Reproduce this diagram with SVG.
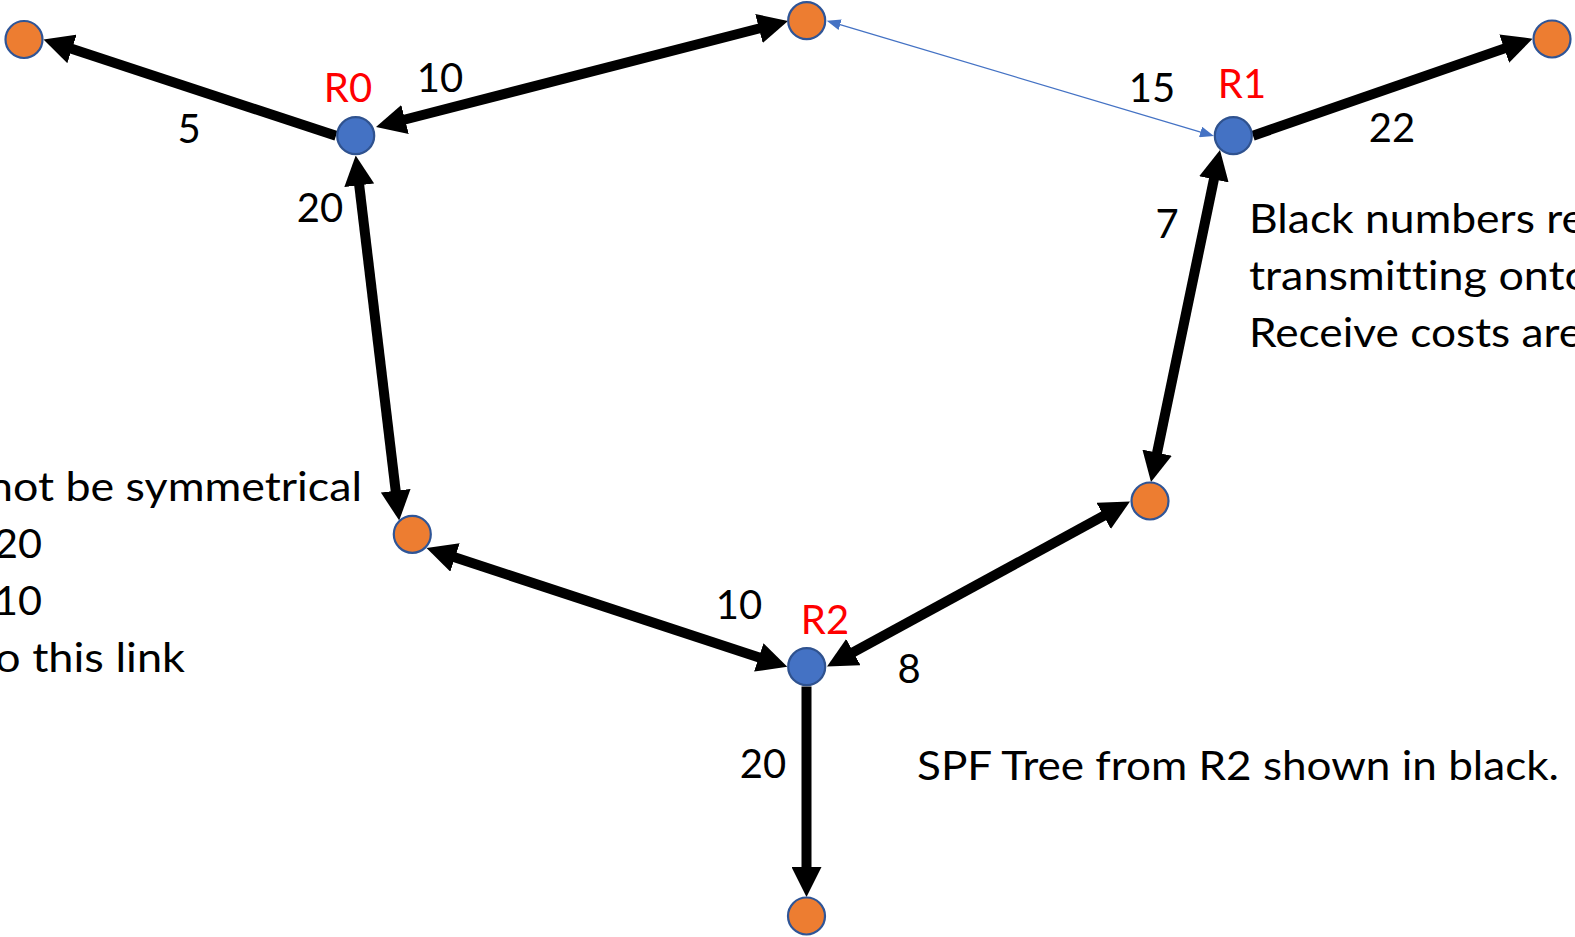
<svg xmlns="http://www.w3.org/2000/svg" width="1575" height="937" viewBox="0 0 1575 937">
<style>
  .txt { font-family: Lato, "Liberation Sans", sans-serif; font-size: 40px; fill: #000; font-variant-ligatures: none; }
  .num { font-family: Lato, "Liberation Sans", sans-serif; font-size: 40px; fill: #000; text-anchor: middle; }
  .rlab { font-family: Lato, "Liberation Sans", sans-serif; font-size: 40px; fill: #FF0000; text-anchor: middle; }
  .edge { fill: none; stroke: #000; stroke-width: 10; }
  .thin { fill: none; stroke: #4472C4; stroke-width: 1.3; }
  .leaf { fill: #ED7D31; stroke: #2F5597; stroke-width: 2.2; }
  .router { fill: #4472C4; stroke: #2F528F; stroke-width: 2.2; }
</style>
<defs>
  <marker id="ah" viewBox="0 0 30 30" markerWidth="30" markerHeight="30" markerUnits="userSpaceOnUse" refX="2" refY="15" orient="auto-start-reverse">
    <path d="M0,0 L30,15 L0,30 z" fill="#000"/>
  </marker>
  <marker id="ahb" viewBox="0 0 14 11" markerWidth="14" markerHeight="11" markerUnits="userSpaceOnUse" refX="1" refY="5.5" orient="auto-start-reverse">
    <path d="M0,0 L14,5.5 L0,11 z" fill="#4472C4"/>
  </marker>
</defs>

<g id="connectors">
  <path class="edge" d="M336,135.7 L70.1,48.3" marker-end="url(#ah)"/>
  <path class="edge" d="M760.9,28 L403.1,120" marker-start="url(#ah)" marker-end="url(#ah)"/>
  <path class="edge" d="M359,183.3 L395.9,492.7" marker-start="url(#ah)" marker-end="url(#ah)"/>
  <path class="edge" d="M453.1,556.8 L760.7,658" marker-start="url(#ah)" marker-end="url(#ah)"/>
  <path class="edge" d="M851.6,653.1 L1105.4,514.9" marker-start="url(#ah)" marker-end="url(#ah)"/>
  <path class="edge" d="M1156.7,454.6 L1214.3,177.4" marker-start="url(#ah)" marker-end="url(#ah)"/>
  <path class="edge" d="M1253,135.7 L1506.1,47.9" marker-end="url(#ah)"/>
  <path class="edge" d="M806.5,686.5 L806.5,869" marker-end="url(#ah)"/>
  <path class="thin" d="M839.2,24.4 L1201.5,132.3" marker-start="url(#ahb)" marker-end="url(#ahb)"/>
</g>

<g id="edge-labels">
  <text class="num" x="189" y="143">5</text>
  <text class="num" x="440" y="92">10</text>
  <text class="num" x="320" y="222">20</text>
  <text class="num" x="1152" y="102">15</text>
  <text class="num" x="1392" y="142">22</text>
  <text class="num" x="1167" y="238">7</text>
  <text class="num" x="739" y="619">10</text>
  <text class="num" x="909" y="683">8</text>
  <text class="num" x="763" y="778">20</text>
</g>

<g id="node-leaf-tl"><circle class="leaf" cx="24" cy="39.5" r="18.5"/></g>
<g id="node-leaf-top"><circle class="leaf" cx="806.7" cy="20.7" r="18.5"/></g>
<g id="node-leaf-tr"><circle class="leaf" cx="1552" cy="39" r="18.5"/></g>
<g id="node-leaf-lm"><circle class="leaf" cx="412.3" cy="534.3" r="18.5"/></g>
<g id="node-leaf-rm"><circle class="leaf" cx="1150" cy="501" r="18.5"/></g>
<g id="node-leaf-bottom"><circle class="leaf" cx="806.5" cy="916" r="18.5"/></g>
<g id="node-R0"><circle class="router" cx="355.7" cy="135.7" r="18.5"/><text class="rlab" x="348" y="102">R0</text></g>
<g id="node-R1"><circle class="router" cx="1233.3" cy="135.7" r="18.5"/><text class="rlab" x="1242" y="98">R1</text></g>
<g id="node-R2"><circle class="router" cx="806.7" cy="666.7" r="18.5"/><text class="rlab" x="825" y="634">R2</text></g>

<g id="notes">
  <text class="txt" x="1249" y="233" textLength="336" lengthAdjust="spacingAndGlyphs">Black numbers re</text>
  <text class="txt" x="1249" y="290" textLength="341" lengthAdjust="spacingAndGlyphs">transmitting onto</text>
  <text class="txt" x="1249" y="347" textLength="333" lengthAdjust="spacingAndGlyphs">Receive costs are</text>
  <text class="txt" x="-12" y="501" textLength="374" lengthAdjust="spacingAndGlyphs">not be symmetrical</text>
  <text class="txt" x="-6" y="558" textLength="48" lengthAdjust="spacingAndGlyphs">20</text>
  <text class="txt" x="-6" y="615" textLength="48" lengthAdjust="spacingAndGlyphs">10</text>
  <text class="txt" x="-5" y="672" textLength="190" lengthAdjust="spacingAndGlyphs">o this link</text>
  <text class="txt" x="917" y="780" textLength="642" lengthAdjust="spacingAndGlyphs">SPF Tree from R2 shown in black.</text>
</g>
</svg>
